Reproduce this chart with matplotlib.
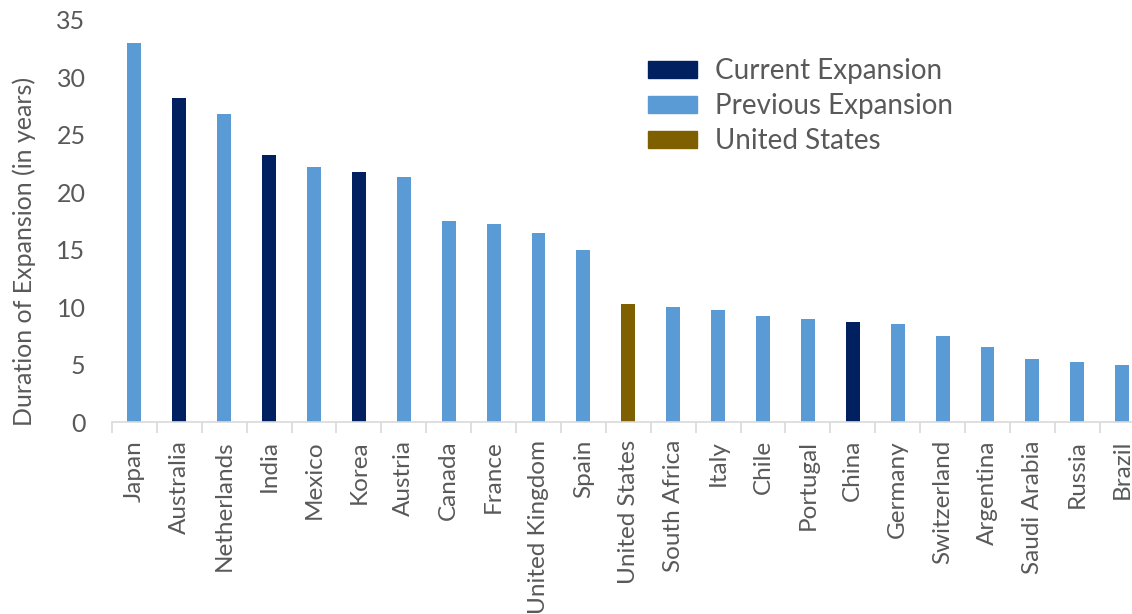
import matplotlib
matplotlib.use("Agg")
import matplotlib.pyplot as plt
from matplotlib.patches import Patch

# ---------------------------------------------------------------
# data
# ---------------------------------------------------------------

countries = ["Japan", "Australia", "Netherlands", "India", "Mexico", "Korea",
             "Austria", "Canada", "France", "United Kingdom", "Spain",
             "United States", "South Africa", "Italy", "Chile", "Portugal",
             "China", "Germany", "Switzerland", "Argentina", "Saudi Arabia",
             "Russia", "Brazil"]
years = [33.0, 28.2, 26.75, 23.2, 22.2, 21.75, 21.3, 17.5, 17.25, 16.45, 15.0,
         10.3, 10.0, 9.75, 9.25, 9.0, 8.7, 8.5, 7.5, 6.5, 5.5, 5.25, 5.0]
# C = current expansion, P = previous expansion, U = united states
group = ["P", "C", "P", "C", "P", "C", "P", "P", "P", "P", "P",
         "U", "P", "P", "P", "P", "C", "P", "P", "P", "P", "P", "P"]

colors = {"C": "#002060", "P": "#5B9BD5", "U": "#7F6000"}
labels = {"C": "Current Expansion", "P": "Previous Expansion", "U": "United States"}
textcolor = "#595959"

plt.rcParams["font.family"] = ["Lato", "DejaVu Sans"]

# ---------------------------------------------------------------
# plot
# ---------------------------------------------------------------

fig = plt.figure(figsize=(11.32, 6.14), dpi=100)
axes = fig.add_axes([0.0989, 0.3127, 0.9123, 0.6555])

x = range(len(countries))
axes.bar(x, years, width=0.31, color=[colors[g] for g in group], zorder=2)

axes.set_xlim(-0.5, len(countries) - 0.5)
axes.set_ylim(0, 35)
axes.set_yticks(range(0, 36, 5))
axes.set_xticks(list(x))
axes.set_xticklabels(countries, rotation=90, fontsize=17.5, color=textcolor)
axes.set_xticks([i - 0.5 for i in range(len(countries) + 1)], minor=True)
axes.tick_params(axis="x", which="major", length=0, pad=13)
axes.tick_params(axis="x", which="minor", length=8, width=1.2, color="#d9d9d9")
axes.tick_params(axis="y", length=0, labelsize=18, labelcolor=textcolor, pad=19)
axes.set_ylabel("Duration of Expansion (in years)", fontsize=18, color=textcolor,
                labelpad=15, y=0.425)

for side in ["top", "right", "left"]:
    axes.spines[side].set_visible(False)
axes.spines["bottom"].set_color("#d9d9d9")
axes.spines["bottom"].set_linewidth(1.2)

handles = [Patch(color=colors[k], label=labels[k]) for k in ["C", "P", "U"]]
fig.legend(handles=handles, loc="upper left", bbox_to_anchor=(0.5724, 0.905),
           frameon=False, fontsize=20, labelcolor=textcolor, borderpad=0, borderaxespad=0,
           handlelength=1.76, handleheight=0.58, handletextpad=0.65, labelspacing=0.32)

plt.savefig("out.png", dpi=100)
